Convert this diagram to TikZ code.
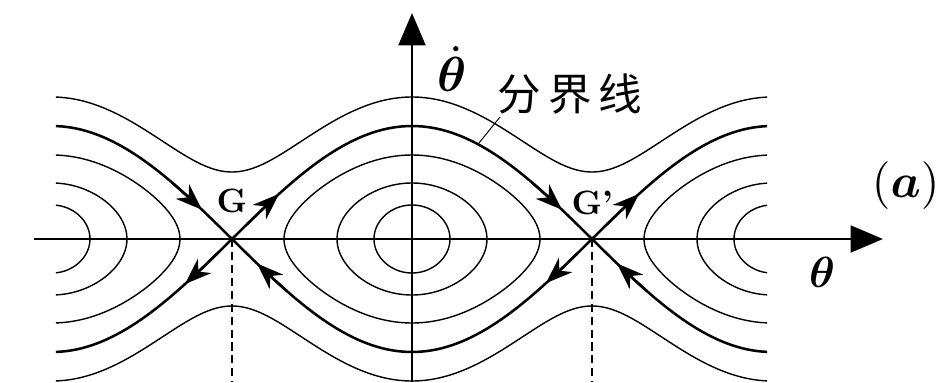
\documentclass[tikz,border=0pt]{standalone}
\usepackage{bm}
\usepackage{fontspec}
\newfontfamily\cjkfont{Noto Sans CJK SC}
\usetikzlibrary{arrows.meta}

\begin{document}
\begin{tikzpicture}[x=0.025cm, y=0.025cm,
  orbit/.style={line width=1pt},
  sepline/.style={line width=1.8pt},
  axisline/.style={line width=2pt, -{Triangle[length=23pt, width=19pt]}},
  flow/.style={line width=1.8pt, -{Stealth[length=19pt, width=14pt, inset=6pt]}},
  dashline/.style={line width=1pt, dash pattern=on 5.7pt off 3.5pt},
  lab/.style={inner sep=0pt, anchor=base}]
  %% One unit = one pixel of the figure; 180 units = pi.
  \useasboundingbox (-412,-143) rectangle (528,239);
  \def\amp{113}

  \coordinate (O) at (0,0);
  \coordinate (G) at (-180,0);
  \coordinate (Gp) at (180,0);
  \coordinate (bot) at (0,-143);

  \begin{scope}
    \clip (-356,-150) rectangle (355,150);
    %% Closed orbits round O and round the two saddles' neighbours.
    \foreach \s in {-360,0,360} {
      \foreach \w/\A in {38/34, 75/56, 128/84} {
        \draw[orbit] plot[domain=0:360, samples=90, smooth]
          ({\s + 2*asin(sin(\w/2)*sin(\x))}, {\A*cos(\x)});
      }
    }
    %% Rotating motion above and below.
    \foreach \sg in {1,-1} {
      \draw[orbit] plot[domain=-360:360, samples=121, smooth]
        (\x, {\sg*10*sqrt(123.26+78.38*cos(\x))});
      \draw[sepline] plot[domain=-360:360, samples=145]
        (\x, {\sg*\amp*abs(cos(\x/2))});
    }
  \end{scope}

  %% Flow arrows on the separatrix near G and G'.
  \foreach \a/\b/\sg in {-240/-210/1, -165/-133/1, -195/-227/-1, -125/-155/-1,
                         120/150/1, 195/227/1, 235/205/-1, 165/134/-1} {
    \draw[flow] plot[domain=\a:\b, samples=3] (\x, {\sg*\amp*abs(cos(\x/2))});
  }

  \draw[dashline] (G) -- (G |- bot);
  \draw[dashline] (Gp) -- (Gp |- bot);

  \coordinate (xl) at (-378,0);
  \coordinate (xr) at (471,0);
  \coordinate (yt) at (0,226);
  \draw[axisline] (xl) -- (xr);
  \draw[axisline] (bot) -- (yt);

  %% Labels.
  \node[lab, scale=3.5] (thdot) at (40,147) {$\bm{\dot\theta}$};
  \node[lab, scale=3.1] (th) at (410,-49) {$\bm{\theta}$};
  \node[lab, anchor=base west, scale=3.4] (fig) at (459,41) {$(\bm{a})$};
  \node[lab, scale=2.4, font=\bfseries] (Glab) at (-180,26) {G};
  \node[lab, anchor=base west, scale=2.4, font=\bfseries] (Gplab) at (159,24) {G'};
  \node[inner sep=0pt, font=\fontsize{31}{31}\selectfont\cjkfont] (sepLbl) at (158,145)
    {分\kern5pt 界\kern5pt 线};
  \coordinate (ldr) at (88,122);
  \coordinate (sepPt) at (66,{\amp*cos(33)});
  \draw[line width=0.7pt] (ldr) -- (sepPt);
\end{tikzpicture}
\end{document}
